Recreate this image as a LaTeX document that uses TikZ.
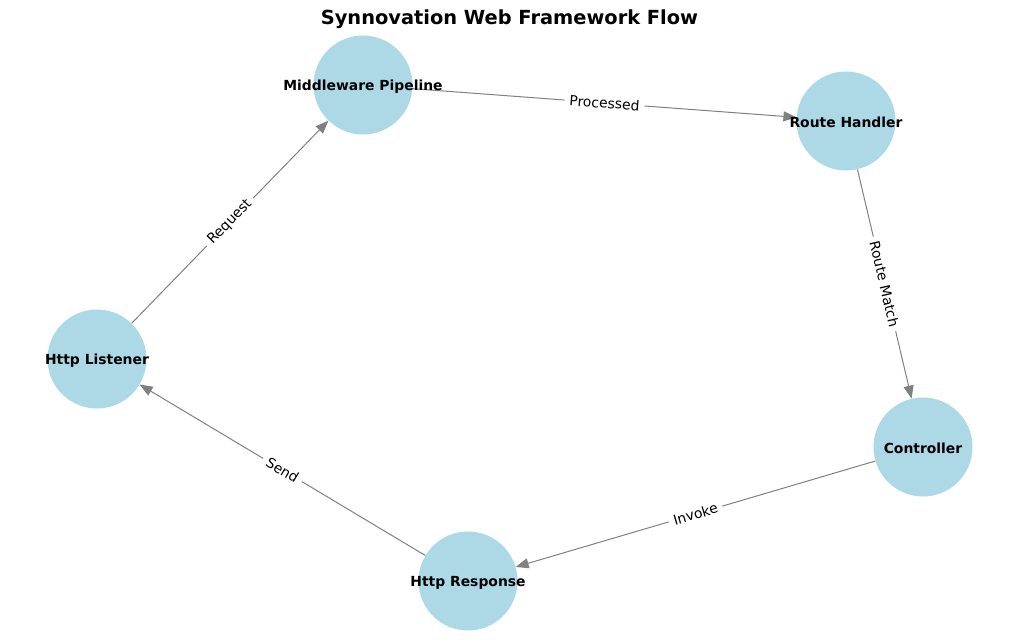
\documentclass[tikz,border=0pt]{standalone}
\usepackage{fontspec}
\setmainfont{DejaVu Sans}
\usetikzlibrary{arrows.meta}
\definecolor{nodeblue}{HTML}{ADD8E6}
\definecolor{edgegray}{HTML}{808080}
\begin{document}
\begin{tikzpicture}[x=1pt,y=-1pt,
  vertex/.style={circle,fill=nodeblue,draw=none,minimum size=99pt,inner sep=0pt},
  vlabel/.style={font=\fontsize{13.9}{16}\selectfont\bfseries,inner sep=0pt,yshift=-1.5pt},
  edge/.style={draw=edgegray,line width=1pt,-{Triangle[length=13pt,width=10pt]}},
  elabel/.style={font=\fontsize{13.9}{16}\selectfont,fill=white,inner xsep=5pt,inner ysep=3pt,rounded corners=3pt,sloped}]
\useasboundingbox (0,0) rectangle (1019,643);
\node[font=\fontsize{19.4}{22}\selectfont\bfseries] (title) at (509.5,19) {Synnovation Web Framework Flow};
\node[vertex] (m) at (363,85) {};
\node[vertex] (r) at (846,121) {};
\node[vertex] (c) at (923,447) {};
\node[vertex] (h) at (468,581) {};
\node[vertex] (l) at (97,359) {};
\draw[edge] (l) -- node[elabel]{Request} (m);
\draw[edge] (m) -- node[elabel]{Processed} (r);
\draw[edge] (r) -- node[elabel]{Route Match} (c);
\draw[edge] (c) -- node[elabel]{Invoke} (h);
\draw[edge] (h) -- node[elabel]{Send} (l);
\node[vlabel] (ml) at (m) {Middleware Pipeline};
\node[vlabel] (rl) at (r) {Route Handler};
\node[vlabel] (cl) at (c) {Controller};
\node[vlabel] (hl) at (h) {Http Response};
\node[vlabel] (ll) at (l) {Http Listener};
\end{tikzpicture}
\end{document}
